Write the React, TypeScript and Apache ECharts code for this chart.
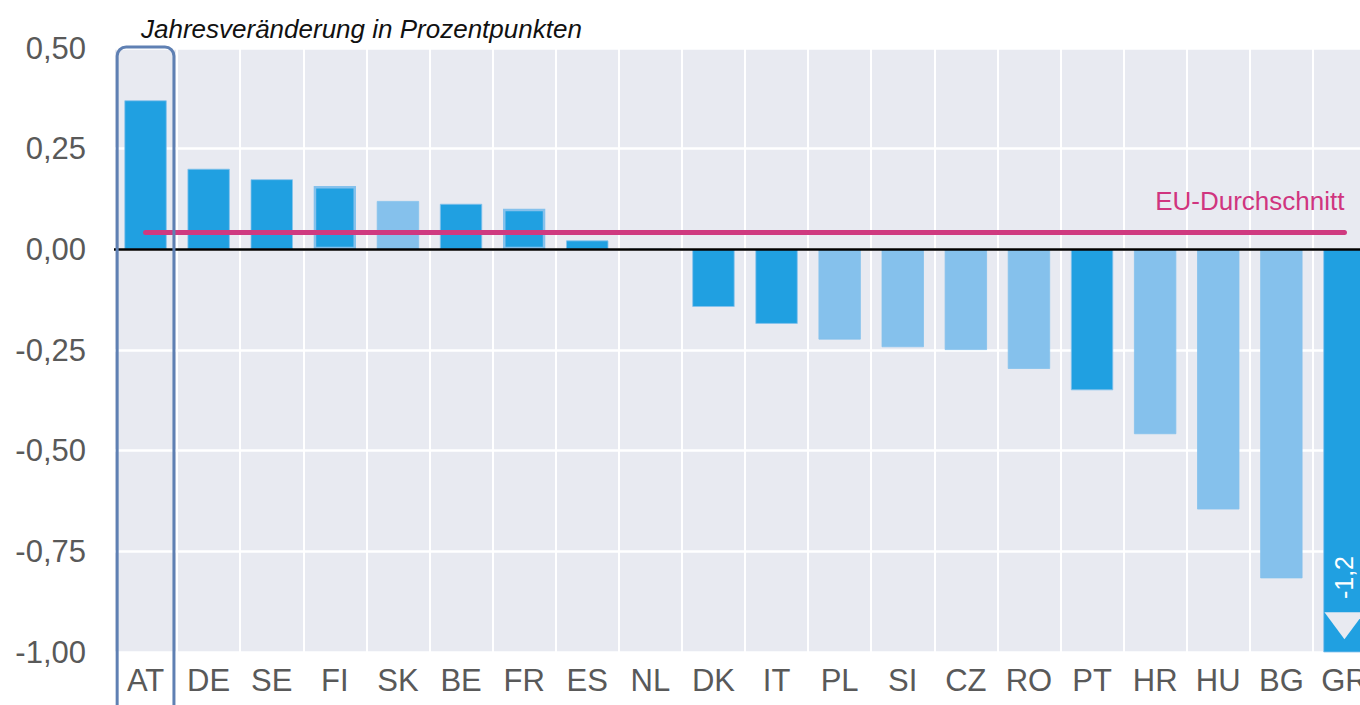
import React, { useEffect, useRef } from "react";
import * as echarts from "echarts";

const categories = ["AT", "DE", "SE", "FI", "SK", "BE", "FR", "ES", "NL", "DK", "IT", "PL", "SI", "CZ", "RO", "PT", "HR", "HU", "BG", "GR"];
const values = [0.37, 0.2, 0.174, 0.157, 0.12, 0.113, 0.101, 0.022, 0, -0.143, -0.185, -0.224, -0.243, -0.25, -0.297, -0.35, -0.459, -0.646, -0.817, -1.2];
const shades = ["dark", "dark", "dark", "dark", "light", "dark", "dark", "dark", "dark", "dark", "dark", "light", "light", "light", "light", "dark", "light", "light", "light", "dark"];
const outlined = ["FI", "FR"];
const euAverage = 0.043;
const euLabel = "EU-Durchschnitt";
const title = "Jahresveränderung in Prozentpunkten";
const yMin = -1;
const yMax = 0.5;
const yStep = 0.25;
const highlighted = "AT";

const DARK = "#20a0e1";
const LIGHT = "#85c1ec";
const BG = "#e8eaf1";
const FONT = "'Liberation Sans', Arial, sans-serif";

const fmt = (v: number, d: number) => v.toFixed(d).replace(".", ",");

export default function App() {
  const ref = useRef<HTMLDivElement>(null);
  useEffect(() => {
    if (!ref.current) return;
    const chart = echarts.init(ref.current, undefined, { renderer: "svg" });
    const overflowIdx = values.findIndex((v) => v < yMin);
    const data = values.map((v, i) => ({
      value: v,
      itemStyle: {
        color: shades[i] === "light" ? LIGHT : DARK,
        borderColor: LIGHT,
        borderWidth: outlined.includes(categories[i]) ? 2.5 : 0.8,
      },
    }));
    const markPoints: any[] = [];
    if (overflowIdx >= 0) {
      markPoints.push({
        coord: [categories[overflowIdx], -0.935],
        symbol: "triangle",
        symbolRotate: 180,
        symbolSize: [40, 27],
        itemStyle: { color: BG },
        label: { show: false },
      });
      markPoints.push({
        coord: [categories[overflowIdx], -0.815],
        symbol: "rect",
        symbolSize: 1,
        itemStyle: { color: "rgba(0,0,0,0)" },
        label: {
          show: true,
          position: "inside",
          formatter: fmt(values[overflowIdx], 1),
          rotate: 90,
          color: "#ffffff",
          fontSize: 25,
          fontFamily: FONT,
        },
      });
    }
    chart.setOption({
      animation: false,
      title: {
        text: title,
        left: 136,
        top: 11,
        textStyle: { fontSize: 26, fontStyle: "italic", fontWeight: "normal", color: "#111", fontFamily: FONT },
      },
      grid: {
        left: 114,
        right: 4,
        top: 48,
        bottom: 53,
        show: true,
        backgroundColor: BG,
        borderWidth: 0,
      },
      xAxis: {
        type: "category",
        data: categories,
        axisLine: { show: false },
        axisTick: { show: false },
        axisLabel: { color: "#595959", fontSize: 31, fontFamily: FONT, margin: 13, interval: 0 },
        splitLine: { show: true, interval: 0, lineStyle: { color: "#ffffff", width: 2 } },
      },
      yAxis: {
        type: "value",
        min: yMin,
        max: yMax,
        interval: yStep,
        axisLine: { show: false },
        axisTick: { show: false },
        axisLabel: { color: "#595959", fontSize: 31, fontFamily: FONT, margin: 28, formatter: (v: number) => fmt(v, 2) },
        splitLine: { show: true, lineStyle: { color: "#ffffff", width: 2.5 } },
      },
      series: [
        {
          type: "bar",
          data,
          barCategoryGap: "33%",
          clip: true,
          markLine: {
            silent: true,
            symbol: "none",
            data: [
              {
                yAxis: 0,
                lineStyle: { color: "#000000", width: 2.5, type: "solid" },
                label: { show: false },
              },
              [
                {
                  coord: [categories[0], euAverage],
                  lineStyle: { color: "#cf3a80", width: 5, type: "solid", cap: "round" },
                  label: {
                    show: true,
                    formatter: euLabel,
                    position: "insideEndTop",
                    distance: [0, 18],
                    color: "#d0357f",
                    fontSize: 26,
                    fontFamily: FONT,
                  },
                },
                { coord: [categories[categories.length - 1], euAverage] },
              ],
            ],
          },
          markPoint: { silent: true, data: markPoints },
        },
      ],
    });
    const idx = categories.indexOf(highlighted);
    const cx = chart.convertToPixel({ xAxisIndex: 0 }, categories[idx]) as number;
    const cx2 = chart.convertToPixel({ xAxisIndex: 0 }, categories[idx + 1]) as number;
    const step = cx2 - cx;
    const topY = chart.convertToPixel({ yAxisIndex: 0 }, yMax) as number;
    const w = step * 0.9;
    chart.setOption({
      graphic: [
        {
          type: "rect",
          shape: { x: cx - w / 2, y: topY - 1, width: w, height: 705 - topY + 20, r: 9 },
          style: { fill: "none", stroke: "#5f80b3", lineWidth: 3 },
          z: 100,
        },
      ],
    });
    return () => chart.dispose();
  }, []);
  return (
    <div style={{ position: "absolute", left: 0, top: 0, width: 1360, height: 705, overflow: "hidden", background: "#fff" }}>
      <div ref={ref} style={{ width: 1380, height: 705 }} />
    </div>
  );
}
